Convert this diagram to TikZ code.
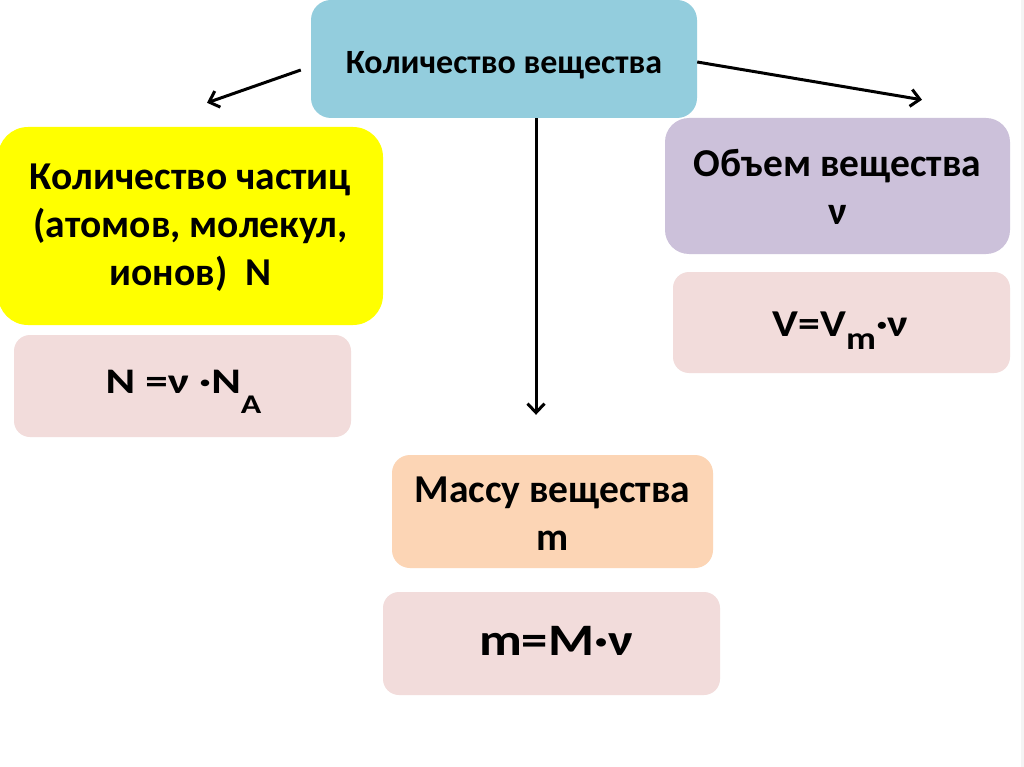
\documentclass[tikz,border=0pt]{standalone}
\usepackage{fontspec}
\usepackage{graphicx}
\setmainfont{Carlito}
\usetikzlibrary{arrows.meta}
\definecolor{cblue}{HTML}{93CDDD}
\definecolor{cyellow}{HTML}{FFFF00}
\definecolor{cpurple}{HTML}{CCC1DA}
\definecolor{cpink}{HTML}{F2DCDB}
\definecolor{cpeach}{HTML}{FCD5B5}
\definecolor{cedge}{HTML}{F4F4F4}
\begin{document}
\begin{tikzpicture}[x=1pt,y=-1pt,
  box/.style={align=center, inner sep=0pt, text=black},
  bigtxt/.style={font=\bfseries\fontsize{39.5}{48}\selectfont},
  ftxt/.style={anchor=base, inner sep=0pt, text=black, font=\bfseries},
  arr/.style={line width=3pt, -{Straight Barb[length=9pt,width=17pt,line width=3pt]}}]
\useasboundingbox (0,0) rectangle (1024,767);
\fill[white] (0,0) rectangle (1024,767);
\fill[cedge] (1021,0) rectangle (1024,767);
% top
\node[box, fill=cblue, minimum width=386pt, minimum height=118pt, rounded corners=20pt,
  font=\bfseries\fontsize{34}{40}\selectfont, text depth=0pt, text height=30pt] (top) at (504,59) {Количество вещества};
% left
\node[box, bigtxt, fill=cyellow, minimum width=385pt, minimum height=198pt, rounded corners=30pt] (parts) at (190.5,226) {};
\node[box, bigtxt, anchor=north] (partst) at (190.5,164)
  {Количество частиц\\(атомов, молекул,\\ионов)\ \ N};
\node[box, fill=cpink, minimum width=337pt, minimum height=102pt, rounded corners=16pt] (f1) at (182.5,386) {};
\node[ftxt] (f1t) at (183.5,393)
  {\scalebox{1.25}[1]{\fontsize{36}{42}\selectfont N =ν ·N\raisebox{-20pt}{\fontsize{27}{27}\selectfont A}}};
% right
\node[box, fill=cpurple, minimum width=345pt, minimum height=136pt, rounded corners=24pt] (vol) at (837.5,186) {};
\node[box, bigtxt, anchor=north] (volt) at (837.5,149) {Объем вещества\\ν};
\node[box, fill=cpink, minimum width=337pt, minimum height=101pt, rounded corners=16pt] (f2) at (841.5,322.5) {};
\node[ftxt] (f2t) at (840.5,336)
  {\scalebox{1.15}[1]{\fontsize{38}{44}\selectfont V=V\raisebox{-13pt}{\fontsize{32}{32}\selectfont m}·ν}};
% middle
\node[box, fill=cpeach, minimum width=321pt, minimum height=113pt, rounded corners=18pt] (mass) at (552.5,511.5) {};
\node[box, bigtxt, anchor=north] (masst) at (552.5,477) {Массу вещества\\m};
\node[box, fill=cpink, minimum width=337pt, minimum height=103pt, rounded corners=16pt] (f3) at (551.5,643.5) {};
\node[ftxt] (f3t) at (556,655)
  {\scalebox{1.17}[1]{\fontsize{45}{52}\selectfont m=M·ν}};
% arrows
\coordinate (lA) at ([xshift=-10pt,yshift=-11pt]top.west);
\coordinate (lB) at ([xshift=16.5pt,yshift=24pt]parts.north);
\coordinate (rA) at ([yshift=-3pt]top.east);
\coordinate (rB) at ([xshift=84.5pt,yshift=18pt]vol.north);
\coordinate (dA) at ([xshift=32pt]top.south);
\coordinate (dB) at ([xshift=-16.5pt,yshift=40pt]mass.north);
\draw[arr] (lA) -- (lB);
\draw[arr] (rA) -- (rB);
\draw[arr] (dA) -- (dB);
\end{tikzpicture}
\end{document}
